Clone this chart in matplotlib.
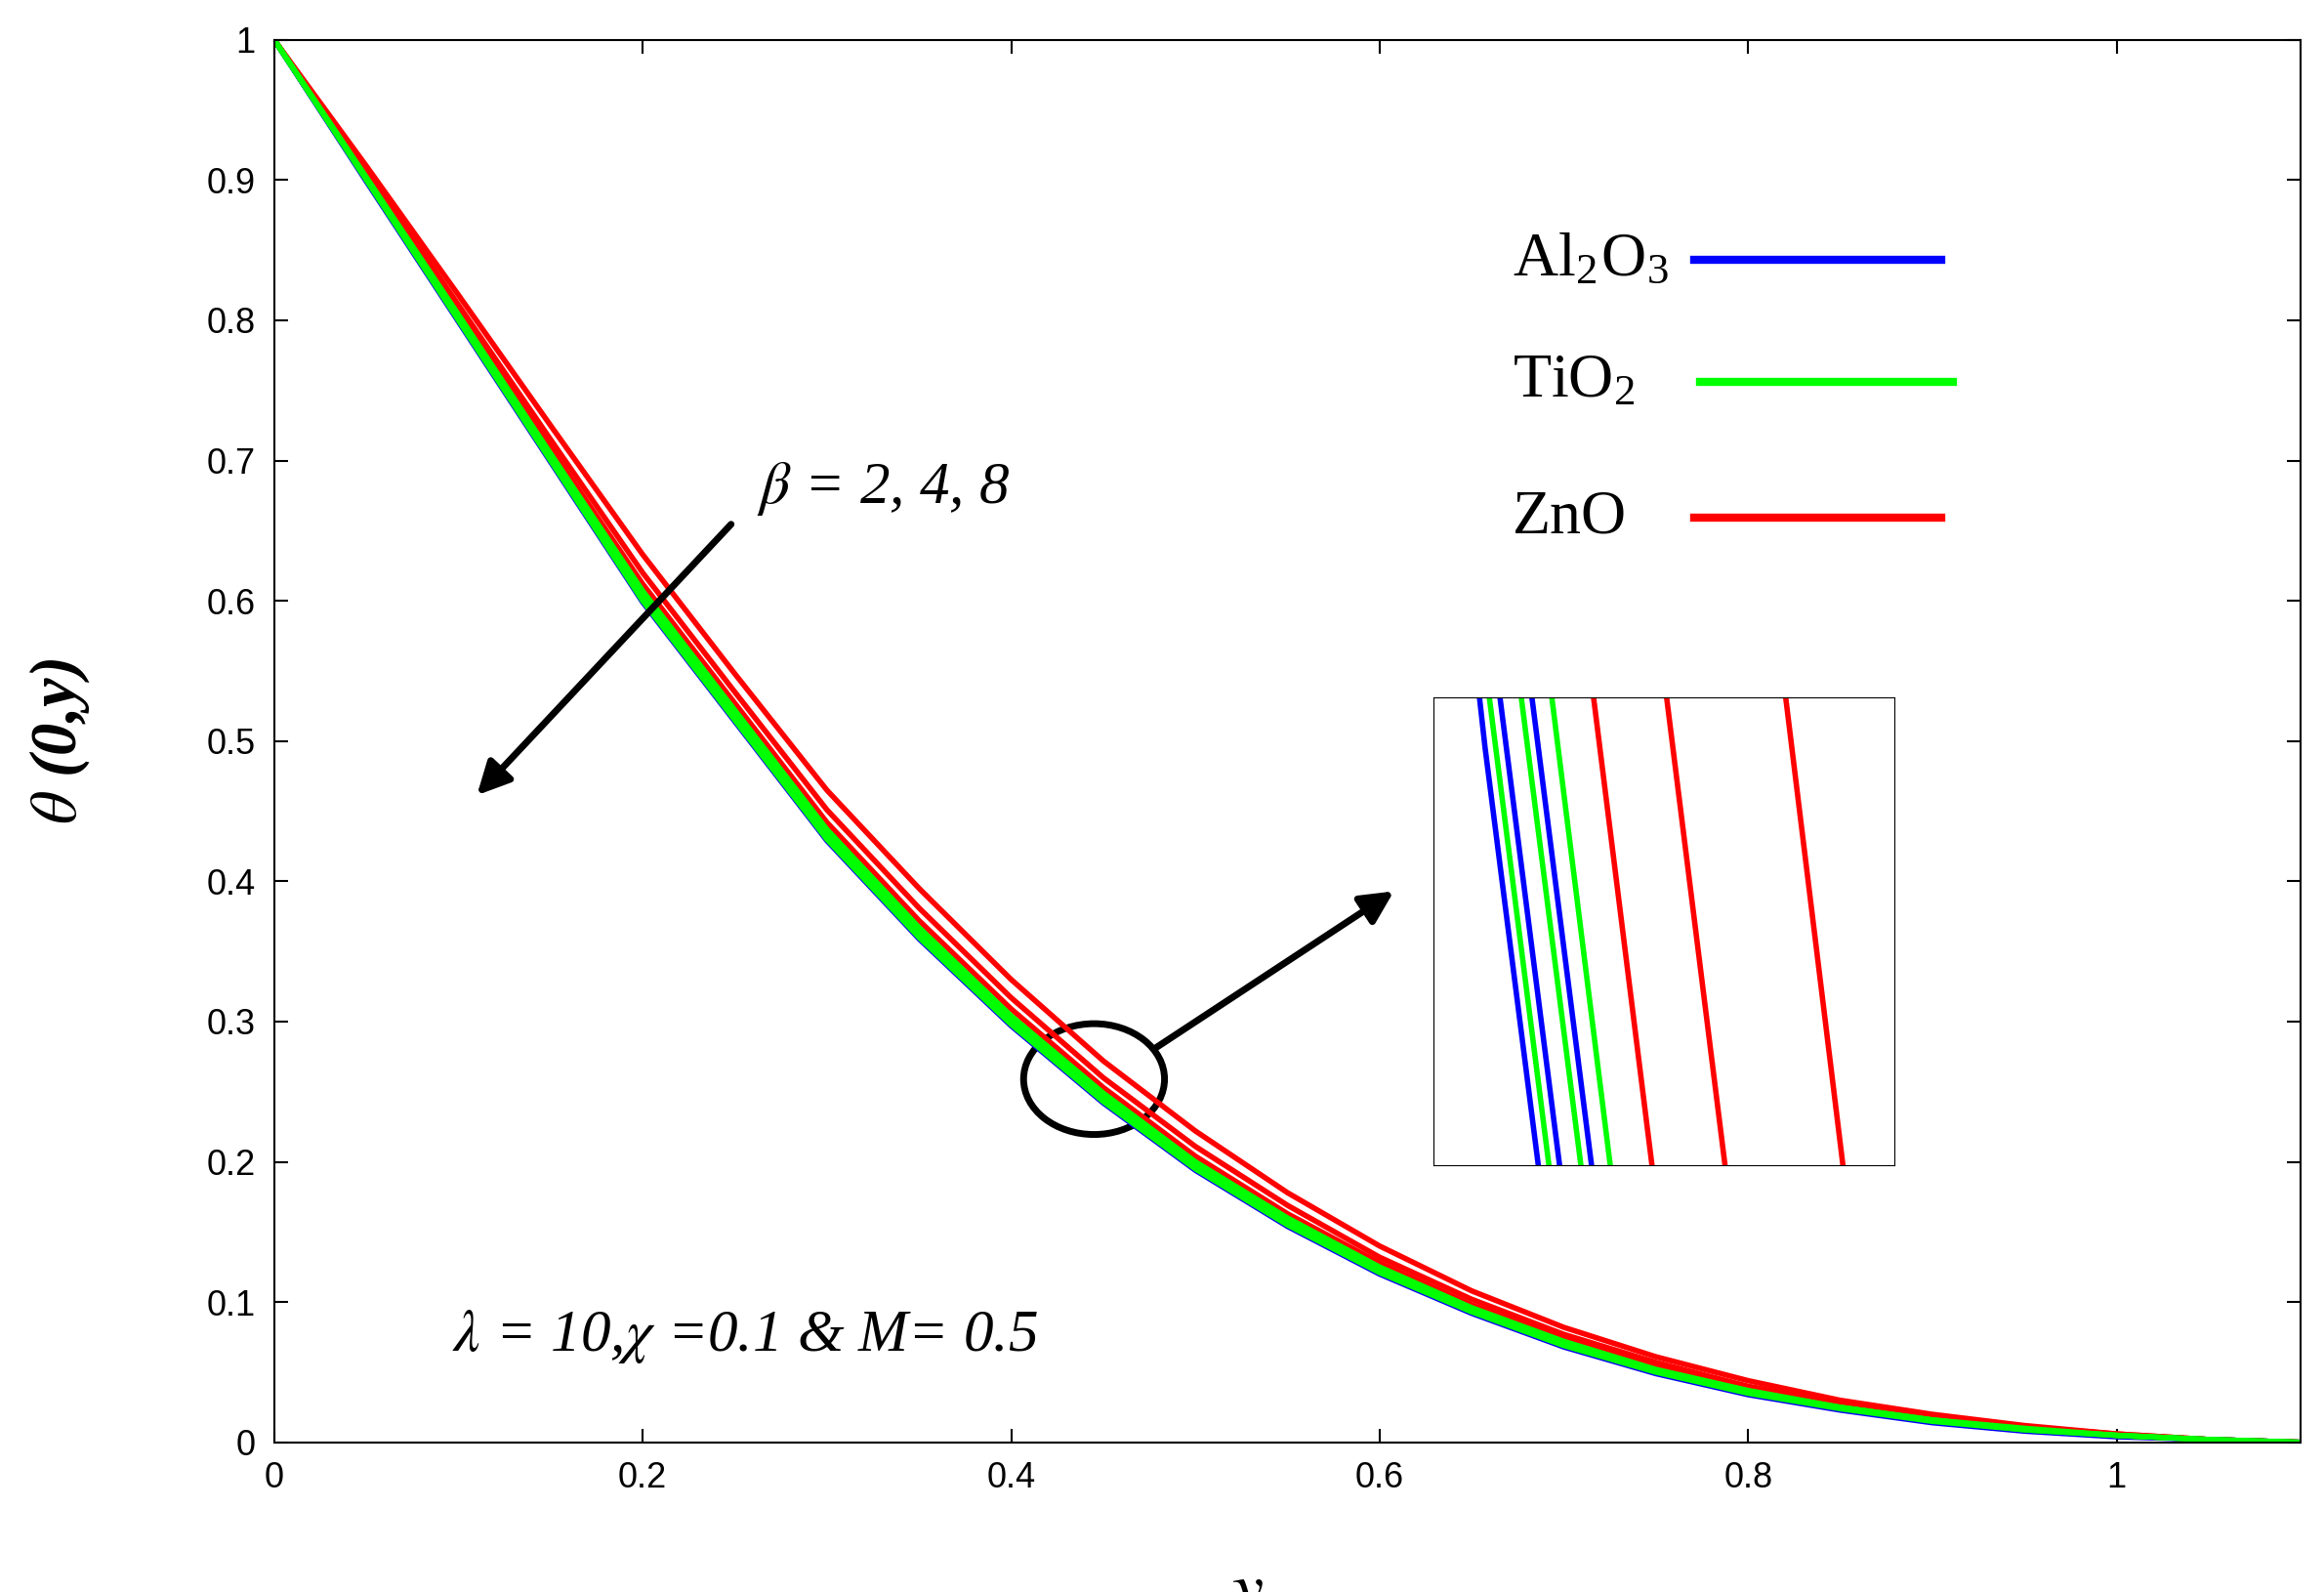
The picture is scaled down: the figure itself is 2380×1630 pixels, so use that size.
import matplotlib
matplotlib.use("Agg")
import matplotlib.pyplot as plt
from matplotlib.patches import Ellipse

plt.rcParams['mathtext.fontset'] = 'stix'
plt.rcParams['font.family'] = ['Liberation Sans', 'DejaVu Sans']

yv = [0, .05, .1, .15, .2, .25, .3, .35, .4, .45, .5, .55, .6, .65, .7, .75, .8, .85, .9, .95, 1.0, 1.05, 1.1]
al_b2 = [1, .902, .803, .704, .605, .520, .435, .365, .303, .247, .199, .158, .124, .095, .071, .052, .036, .025, .016, .009, .005, .002, 0]
al_b4 = [1, .900, .801, .701, .602, .517, .432, .362, .300, .244, .196, .156, .122, .094, .070, .051, .035, .024, .015, .009, .005, .002, 0]
al_b8 = [1, .899, .799, .699, .599, .514, .429, .359, .297, .242, .194, .154, .120, .092, .068, .049, .034, .023, .014, .008, .004, .002, 0]
ti_b2 = [1, .902, .804, .705, .607, .522, .437, .367, .304, .249, .200, .160, .125, .096, .072, .052, .037, .025, .016, .010, .005, .002, 0]
ti_b4 = [1, .901, .802, .703, .603, .518, .434, .364, .301, .246, .198, .157, .123, .095, .070, .051, .036, .025, .016, .009, .005, .002, 0]
ti_b8 = [1, .900, .800, .700, .600, .515, .430, .360, .298, .243, .195, .155, .121, .093, .069, .050, .035, .024, .015, .009, .005, .002, 0]
zn_b2 = [1, .910, .818, .725, .633, .548, .465, .395, .330, .272, .222, .178, .140, .108, .082, .061, .044, .030, .020, .012, .006, .002, 0]
zn_b4 = [1, .906, .811, .715, .620, .535, .451, .381, .317, .260, .211, .169, .132, .102, .077, .057, .040, .028, .018, .011, .006, .002, 0]
zn_b8 = [1, .904, .806, .709, .612, .527, .442, .372, .309, .253, .204, .163, .128, .098, .074, .054, .038, .026, .017, .010, .005, .002, 0]

series = [(al_b2, 'blue'), (al_b4, 'blue'), (al_b8, 'blue'),
          (zn_b2, 'red'), (zn_b4, 'red'), (zn_b8, 'red'),
          (ti_b2, 'lime'), (ti_b4, 'lime'), (ti_b8, 'lime')]
cmap = {'blue': (0, 0, 1), 'red': (1, 0, 0), 'lime': (0, 1, 0)}

fig = plt.figure(figsize=(23.8, 16.3), dpi=100)
ax = fig.add_axes([0.118, 0.094, 0.872, 0.881])
for d, c in series:
    ax.plot(yv, d, color=cmap[c], lw=4)
ax.set_xlim(0, 1.1)
ax.set_ylim(0, 1)
ax.set_xticks([0, .2, .4, .6, .8, 1])
ax.set_xticklabels(['0', '0.2', '0.4', '0.6', '0.8', '1'])
ax.set_yticks([i / 10 for i in range(11)])
ax.set_yticklabels(['0'] + ['0.%d' % i for i in range(1, 10)] + ['1'])
ax.tick_params(direction='in', labelsize=26, length=10, width=1.5, top=True, right=True, pad=14)
for s in ax.spines.values():
    s.set_linewidth(1.5)
ax.set_xlabel(r'$y$', fontsize=52)
ax.xaxis.set_label_coords(0.48, -0.085)
ax.set_ylabel(r'$\theta$ (0,y)', fontsize=48, family='Liberation Serif', style='italic', weight='bold')
ax.yaxis.set_label_coords(-0.09, 0.5)

serif = 'Liberation Serif'
leg = [(r'Al$_\mathregular{2}$O$_\mathregular{3}$', 'blue', 0.843, 0.771, 0.905),
       (r'TiO$_\mathregular{2}$', 'lime', 0.756, 0.774, 0.911),
       ('ZnO', 'red', 0.659, 0.771, 0.905)]
for lab, c, yy, x0, x1 in leg:
    ax.text(0.672, yy, lab, fontsize=46, family=serif, va='center')
    ax.plot([x0, x1], [yy, yy], color=cmap[c], lw=6)

ax.text(0.262, 0.67, r'$\beta$ = 2, 4, 8', fontsize=44, family=serif, style='italic')
ax.annotate('', xy=(0.109, 0.46), xytext=(0.249, 0.656),
            arrowprops=dict(arrowstyle='-|>', lw=5, color='black', mutation_scale=50))
ax.text(0.0966, 0.065, r'$\lambda$ = 10,$\chi$ =0.1 & M= 0.5', fontsize=44, family=serif, style='italic')
ax.add_patch(Ellipse((0.445, 0.259), 0.0765, 0.079, fill=False, lw=5, color='black'))
ax.annotate('', xy=(0.609, 0.394), xytext=(0.477, 0.28),
            arrowprops=dict(arrowstyle='-|>', lw=5, color='black', mutation_scale=50))

ins = fig.add_axes([0.617, 0.268, 0.198, 0.294])
for d, c in series:
    ins.plot(yv, d, color=cmap[c], lw=4)
ins.set_xlim(0.445, 0.49)
ins.set_ylim(0.237, 0.2426)
ins.set_xticks([]); ins.set_yticks([])

fig.savefig('out.png')
